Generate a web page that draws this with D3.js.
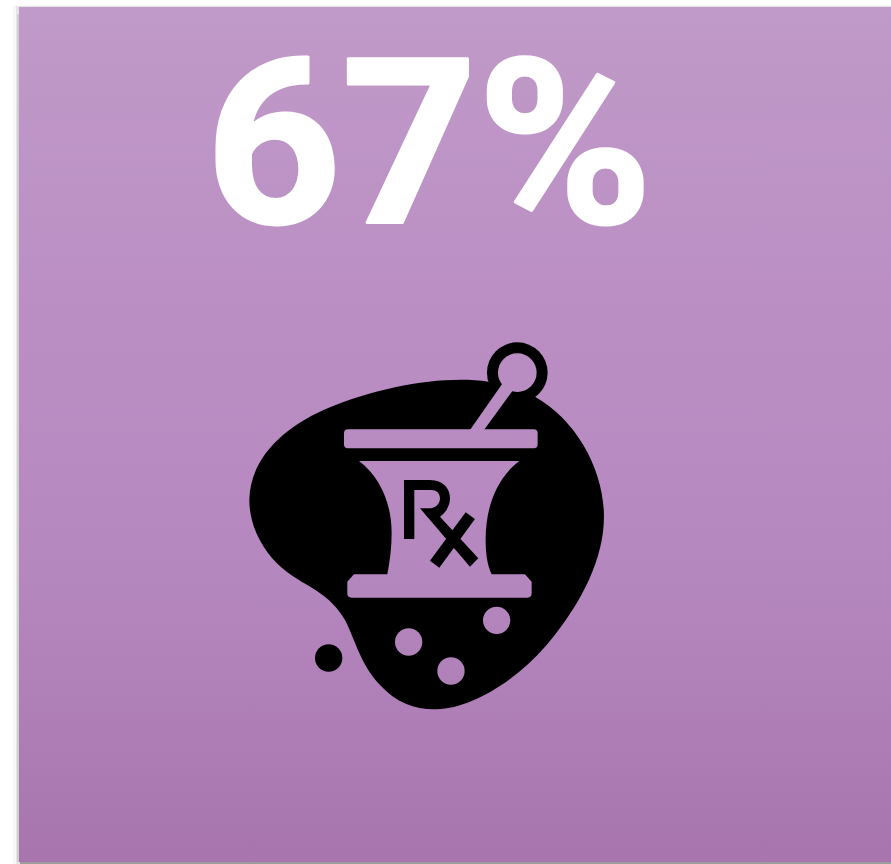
<!DOCTYPE html>
<html>
<head>
<meta charset="utf-8">
<style>
html,body{margin:0;padding:0;background:#fff;overflow:hidden}
svg{display:block}
</style>
<script src="https://cdn.jsdelivr.net/npm/d3@7"></script>
</head>
<body>
<script>
// Headline statistic
const statValue = 67;
const statSuffix = "%";

// Card tones, top to bottom
const gradientStops = ["#c09ac8", "#bb8fc4", "#b587bf", "#a875ae"];

const W = 891, H = 864;
const svg = d3.select("body").append("svg").attr("width", W).attr("height", H);
const defs = svg.append("defs");

function addGradient(id, attrs) {
  const g = defs.append("linearGradient").attr("id", id);
  Object.entries(attrs).forEach(([k, v]) => g.attr(k, v));
  g.selectAll("stop").data(gradientStops).join("stop")
    .attr("offset", (d, i) => i / (gradientStops.length - 1))
    .attr("stop-color", d => d);
}
addGradient("cardFill", {x1: 0, y1: 0, x2: 0, y2: 1});
// Same ramp in icon units so cut-outs pick up the tone of the card behind them
addGradient("cutFill", {gradientUnits: "userSpaceOnUse", x1: 0, y1: (7 - 330) * 3, x2: 0, y2: (862 - 330) * 3});

// Soft edge around the card
[[13,5,878,859,"#f7f7f7"],[16,6,875,858,"#e6e6e6"]].forEach(r => {
  svg.append("rect").attr("x", r[0]).attr("y", r[1]).attr("width", r[2]).attr("height", r[3]).attr("fill", r[4]);
});
svg.append("rect").attr("x", 17).attr("y", 14).attr("width", 2).attr("height", 848).attr("fill", "#cfcfcf");
svg.append("rect").attr("x", 20).attr("y", 862).attr("width", 871).attr("height", 2).attr("fill", "#9c9c9c");
svg.append("rect").attr("x", 19).attr("y", 7).attr("width", 872).attr("height", 855).attr("fill", "url(#cardFill)");

// Big number, lightly outlined to soften its corners
svg.append("text")
  .attr("transform", "translate(429,223) scale(1.03,1)")
  .attr("text-anchor", "middle")
  .attr("font-family", "Roboto, sans-serif")
  .attr("font-weight", 700)
  .attr("font-size", 230)
  .attr("fill", "#fff")
  .attr("stroke", "#fff")
  .attr("stroke-width", 3)
  .attr("stroke-linejoin", "round")
  .text(statValue + statSuffix);

// Mortar and pestle badge, drawn in icon units
const icon = svg.append("g").attr("transform", "translate(230,330) scale(0.3333)");
const cut = "url(#cutFill)";

icon.append("path").attr("fill", "#000")
  .attr("d", "M775,155C640,135 450,170 300,232C170,285 60,380 58,510C58,600 110,680 170,725C230,770 300,790 345,870C380,940 390,1000 450,1065C500,1120 560,1140 620,1138C720,1135 850,1060 950,945C1060,815 1122,680 1122,560C1122,420 1040,270 915,200L860,175Z");

icon.append("circle").attr("cx", 862).attr("cy", 128).attr("r", 91).attr("fill", "#000");
icon.append("circle").attr("cx", 862).attr("cy", 128).attr("r", 58).attr("fill", cut);

icon.append("path").attr("fill", cut).attr("d", "M720,300L818,160L848,182L762,300Z");
icon.append("rect").attr("x", 342).attr("y", 298).attr("width", 581).attr("height", 57).attr("rx", 12).attr("fill", cut);
icon.append("path").attr("fill", cut)
  .attr("d", "M387,393H868C800,445 767,530 767,630C767,670 772,705 785,733H885L905,755V790Q905,803 892,803H365Q352,803 352,790V755L372,733H472C480,695 485,650 485,610C485,520 450,440 387,393Z");

// Rx monogram
icon.append("path").attr("fill", "#000")
  .attr("d", "M522,450H600C640,450 660,475 660,505C660,530 645,550 630,560L745,685L720,710L570,535H603C620,532 630,520 630,505C630,490 620,480 603,480H553V627H522Z");
icon.append("path").attr("fill", "#000").attr("d", "M707,547L735,567L628,713L600,692Z");

// Pills
const pills = [[536,936],[663,1023],[800,871]];
const looseDot = [296,984];
icon.selectAll("circle.pill").data(pills).join("circle")
  .attr("class", "pill").attr("fill", cut)
  .attr("cx", d => d[0]).attr("cy", d => d[1]).attr("r", 41);
icon.append("circle").attr("cx", looseDot[0]).attr("cy", looseDot[1]).attr("r", 41).attr("fill", "#000");
</script>
</body>
</html>
